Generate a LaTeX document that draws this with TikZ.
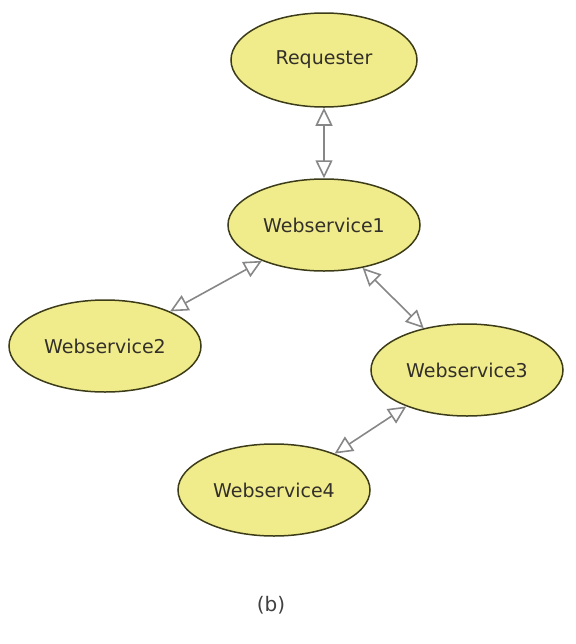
\documentclass[tikz,border=0pt]{standalone}
\usepackage{fontspec}
\setmainfont{DejaVu Sans}
\usetikzlibrary{shapes.geometric,arrows.meta}

\definecolor{svcfill}{RGB}{240,236,140}
\definecolor{svcline}{RGB}{60,60,25}
\definecolor{linkgray}{RGB}{135,135,135}

\begin{document}
\begin{tikzpicture}[x=0.5pt, y=-0.5pt,
  service/.style={ellipse, draw=svcline, fill=svcfill, line width=0.75pt,
    minimum width=96pt, minimum height=46pt, inner sep=0pt,
    font=\fontsize{9.5}{11}\selectfont, text=black!85!olive},
  link/.style={draw=linkgray, line width=0.8pt,
    {Triangle[open, fill=white, length=9pt, width=8.5pt]}-{Triangle[open, fill=white, length=9pt, width=8.5pt]}}]
  \useasboundingbox (0,0) rectangle (576,644);

  \node[service, minimum width=93pt, minimum height=47pt] (req) at (324,60) {Requester};
  \node[service] (ws1) at (324,225) {Webservice1};
  \node[service] (ws2) at (105,346) {Webservice2};
  \node[service] (ws3) at (467,370) {Webservice3};
  \node[service] (ws4) at (274,490) {Webservice4};

  \draw[link] (req.south) -- (ws1.north);
  \draw[link] (ws1.210) -- (ws2.28);
  \draw[link] (ws1.-48) -- (ws3.136);
  \draw[link] (ws3.211) -- (ws4.31);

  \node[font=\fontsize{10}{12}\selectfont, text=black!75] (cap) at (271,605) {(b)};
\end{tikzpicture}
\end{document}
